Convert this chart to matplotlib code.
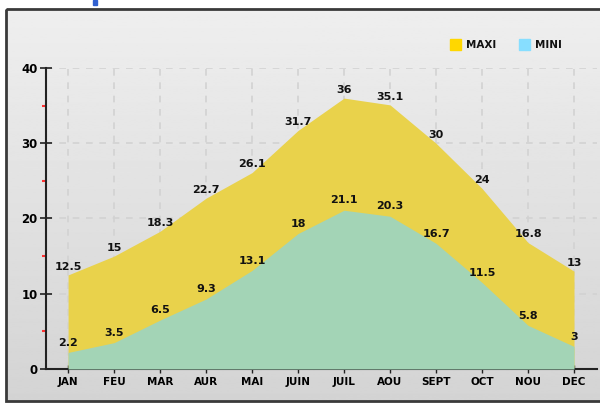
import numpy as np
import matplotlib
matplotlib.use("Agg")
from matplotlib import pyplot as plt
from matplotlib.patches import Rectangle

months = ["JAN", "FEU", "MAR", "AUR", "MAI", "JUIN", "JUIL", "AOU", "SEPT", "OCT", "NOU", "DEC"]
maxi = [12.5, 15, 18.3, 22.7, 26.1, 31.7, 36, 35.1, 30, 24, 16.8, 13]
mini = [2.2, 3.5, 6.5, 9.3, 13.1, 18, 21.1, 20.3, 16.7, 11.5, 5.8, 3]
maxi_labels = ["12.5", "15", "18.3", "22.7", "26.1", "31.7", "36", "35.1", "30", "24", "16.8", "13"]
mini_labels = ["2.2", "3.5", "6.5", "9.3", "13.1", "18", "21.1", "20.3", "16.7", "11.5", "5.8", "3"]

W, H = 600, 403
fig = plt.figure(figsize=(6, 4.03), dpi=100)

# background panel with gradient and border
bg = fig.add_axes([0, 0, 1, 1], zorder=0)
bg.set_xlim(0, W)
bg.set_ylim(H, 0)
bg.axis("off")
grad = np.linspace(0.935, 0.83, 256).reshape(-1, 1)
bg.imshow(grad, cmap="gray", vmin=0, vmax=1, extent=[6, 602, 401, 9], aspect="auto")
bg.add_patch(Rectangle((6, 9), 600, 392, fill=False, edgecolor="#3a3a3a", linewidth=2))
bg.add_patch(Rectangle((93, 0), 4, 5, color="#3060d0"))

ax = fig.add_axes([46 / W, 1 - 369 / H, 551 / W, 301 / H], zorder=1)
ax.patch.set_alpha(0)
x = np.arange(len(months))

ax.fill_between(x, 0, maxi, color="#E9D24B", linewidth=0, zorder=2)
ax.fill_between(x, 0, mini, color="#A3D4B6", linewidth=0, zorder=3)

for xi, v, s in zip(x, maxi, maxi_labels):
    ax.text(xi, v + 1.1, s, ha="center", va="center", fontsize=8, fontweight="bold", color="#111111", zorder=5)
for xi, v, s in zip(x, mini, mini_labels):
    ax.text(xi, v + 1.3, s, ha="center", va="center", fontsize=8, fontweight="bold", color="#111111", zorder=5)

ax.set_xlim(-0.48, 11.5)
ax.set_ylim(0, 40)
ax.set_xticks(x)
ax.set_xticklabels(months, fontsize=7.5, fontweight="bold")
ax.set_yticks([0, 10, 20, 30, 40])
ax.set_yticklabels(["0", "10", "20", "30", "40"], fontsize=8.5, fontweight="bold")
ax.set_yticks([5, 15, 25, 35], minor=True)
ax.tick_params(axis="y", which="major", direction="inout", length=8, width=1.2, color="#222222", pad=2)
ax.tick_params(axis="y", which="minor", direction="out", length=3, width=1.5, color="#ff3030")
ax.tick_params(axis="x", which="major", direction="inout", length=6, width=1, color="#222222", pad=3)

ax.grid(True, linestyle=(0, (4, 4)), color="#d2d2d2", linewidth=1.2, zorder=1)
ax.set_axisbelow(True)
for side in ["top", "right"]:
    ax.spines[side].set_visible(False)
for side in ["left", "bottom"]:
    ax.spines[side].set_color("#222222")
    ax.spines[side].set_linewidth(1.5)

# legend
bg.add_patch(Rectangle((450, 39), 11, 11, color="#FFD700", zorder=3))
bg.text(466, 45, "MAXI", fontsize=7.5, fontweight="bold", va="center", ha="left", color="#111111")
bg.add_patch(Rectangle((519, 39), 11, 11, color="#87DEFF", zorder=3))
bg.text(535, 45, "MINI", fontsize=7.5, fontweight="bold", va="center", ha="left", color="#111111")

fig.savefig("out.png", dpi=100)
